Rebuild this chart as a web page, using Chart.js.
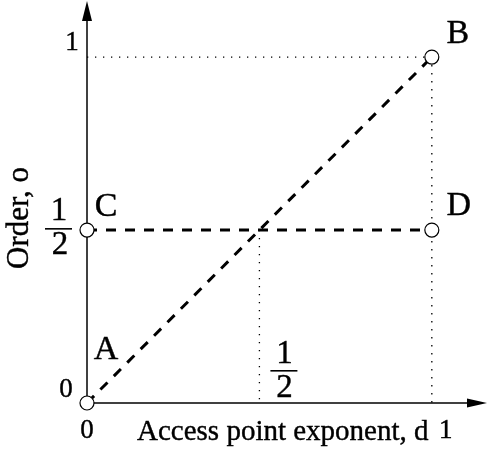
<!DOCTYPE html>
<html>
<head>
<meta charset="utf-8">
<script src="https://cdn.jsdelivr.net/npm/chart.js@4"></script>
<style>
  body { margin: 0; background: #fff; }
  canvas { display: block; }
</style>
</head>
<body>
<canvas id="canvas" width="487" height="455"></canvas>
<script>
// corner points of the order / access-exponent diagram
var pointNames = ['A', 'B', 'C', 'D']
var pointX = [0, 1, 0, 1]
var pointY = [0, 1, 0.5, 0.5]

// dashed paths: A -> B and C -> D
var diagX = [0, 1], diagY = [0, 1]
var halfX = [0, 1], halfY = [0.5, 0.5]

// dotted guide lines
var guideTopX = [0, 1], guideTopY = [1, 1]
var guideRightX = [1, 1], guideRightY = [1, 0]
var guideMidX = [0.5, 0.5], guideMidY = [0.5, 0]

// axis ticks
var xTicks = [0, 1]
var yTicks = [0, 1]
var halfTick = 0.5

var xTitle = 'Access point exponent, d'
var yTitle = 'Order, o'

function pts(xs, ys) {
    var out = []
    for (var i = 0; i < xs.length; i++) out.push({ x: xs[i], y: ys[i] })
    return out
}

var serif = '"Liberation Serif", "DejaVu Serif", serif'

// fill plus a hairline stroke so the serif text is a bit heavier
function text(ctx, s, x, y) {
    ctx.fillText(s, x, y)
    ctx.strokeText(s, x, y)
}

// axes with arrows and all the lettering go in a plugin
var drawExtras = {
    id: 'drawExtras',
    beforeDatasetsDraw: function (chart) {
        var ctx = chart.ctx
        var xs = chart.scales.x, ys = chart.scales.y
        var x0 = xs.getPixelForValue(0), y0 = ys.getPixelForValue(0)
        ctx.save()
        ctx.strokeStyle = '#000'
        ctx.fillStyle = '#000'
        ctx.lineWidth = 1.5
        // y axis
        ctx.beginPath()
        ctx.moveTo(x0, y0)
        ctx.lineTo(x0, 18)
        ctx.stroke()
        ctx.beginPath()
        ctx.moveTo(x0, 1)
        ctx.lineTo(x0 - 5, 21)
        ctx.lineTo(x0 + 5, 21)
        ctx.closePath()
        ctx.fill()
        // x axis
        ctx.beginPath()
        ctx.moveTo(x0, y0)
        ctx.lineTo(470, y0)
        ctx.stroke()
        ctx.beginPath()
        ctx.moveTo(487, y0)
        ctx.lineTo(467, y0 - 4.5)
        ctx.lineTo(467, y0 + 4.5)
        ctx.closePath()
        ctx.fill()
        ctx.restore()
    },
    afterDatasetsDraw: function (chart) {
        var ctx = chart.ctx
        var xs = chart.scales.x, ys = chart.scales.y
        var px = function (v) { return xs.getPixelForValue(v) }
        var py = function (v) { return ys.getPixelForValue(v) }
        ctx.save()
        ctx.fillStyle = '#000'
        ctx.strokeStyle = '#000'
        ctx.lineWidth = 0.4
        ctx.textAlign = 'center'
        ctx.textBaseline = 'alphabetic'

        // tick labels
        ctx.font = '27px ' + serif
        text(ctx, String(yTicks[0]), px(0) - 21, py(yTicks[0]) - 6)
        text(ctx, String(yTicks[1]), px(0) - 15, py(yTicks[1]) - 7)
        text(ctx, String(xTicks[0]), px(xTicks[0]), py(0) + 35)
        text(ctx, String(xTicks[1]), px(xTicks[1]) + 14, py(0) + 35)

        // point letters
        ctx.font = '34px ' + serif
        var offs = [[19, -44], [26, -14], [19, -14], [27, -15]]
        for (var i = 0; i < pointNames.length; i++) {
            text(ctx, pointNames[i], px(pointX[i]) + offs[i][0], py(pointY[i]) + offs[i][1])
        }

        // the two 1/2 fractions
        ctx.font = '33px ' + serif
        var fx = px(0) - 28, fy = py(halfTick)
        text(ctx, '1', fx, fy - 10)
        text(ctx, '2', fx + 1, fy + 24)
        ctx.fillRect(fx - 14, fy - 2, 27, 1.6)
        var gx = px(halfTick) + 25, gy = py(0) - 33
        text(ctx, '1', gx, gy - 7)
        text(ctx, '2', gx, gy + 27)
        ctx.fillRect(gx - 14, gy, 27, 1.6)

        // axis titles
        ctx.font = '29px ' + serif
        ctx.textAlign = 'left'
        text(ctx, xTitle, 137, py(0) + 37)
        ctx.font = '31px ' + serif
        ctx.translate(28, 218)
        ctx.rotate(-Math.PI / 2)
        ctx.textAlign = 'center'
        text(ctx, yTitle, 0, 0)
        ctx.restore()
    }
}

var dotted = { borderColor: '#000', borderWidth: 1.3, borderDash: [1.3, 6.7], pointRadius: 0, showLine: true, fill: false }
var dashed = { borderColor: '#000', borderWidth: 3, borderDash: [10, 9], pointRadius: 0, showLine: true, fill: false }

var config = {
    type: 'scatter',
    data: {
        datasets: [
            {
                label: 'points',
                data: pts(pointX, pointY),
                pointRadius: 7,
                pointBackgroundColor: '#fff',
                pointBorderColor: '#000',
                pointBorderWidth: 1.2,
                showLine: false,
                clip: false
            },
            Object.assign({ label: 'A-B', data: pts(diagX, diagY) }, dashed),
            Object.assign({ label: 'C-D', data: pts(halfX, halfY) }, dashed),
            Object.assign({ label: 'top', data: pts(guideTopX, guideTopY) }, dotted),
            Object.assign({ label: 'right', data: pts(guideRightX, guideRightY) }, dotted),
            Object.assign({ label: 'mid', data: pts(guideMidX, guideMidY) }, dotted)
        ]
    },
    options: {
        responsive: false,
        animation: false,
        layout: { autoPadding: false, padding: { left: 87, bottom: 52, top: 0, right: 0 } },
        plugins: { legend: { display: false }, tooltip: { enabled: false } },
        scales: {
            x: { type: 'linear', min: 0, max: 1.16, display: false },
            y: { type: 'linear', min: 0, max: 1.165, display: false }
        }
    },
    plugins: [drawExtras]
}

var myChart = new Chart(document.getElementById('canvas').getContext('2d'), config)
</script>
</body>
</html>
